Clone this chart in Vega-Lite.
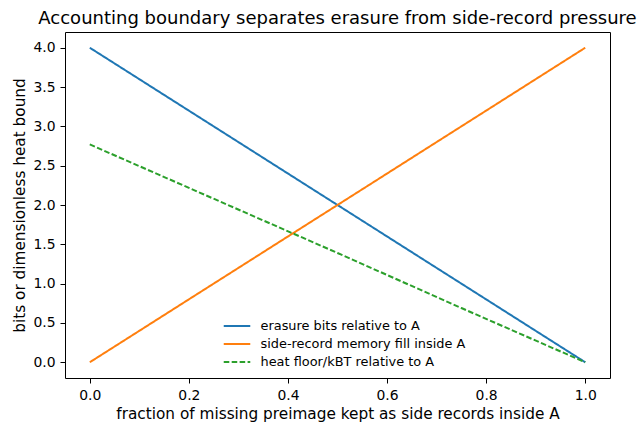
{
  "$schema": "https://vega.github.io/schema/vega-lite/v6.json",
  "width": 545,
  "height": 346,
  "autosize": {"type": "none"},
  "padding": {"left": 65, "top": 32, "right": 33, "bottom": 49},
  "background": "white",
  "config": {
    "font": "DejaVu Sans",
    "view": {"stroke": "black", "strokeWidth": 1},
    "axis": {
      "grid": false,
      "domain": false,
      "tickColor": "black",
      "tickSize": 5,
      "tickWidth": 1,
      "labelColor": "black",
      "labelFontSize": 13.9,
      "labelPadding": 5,
      "titleColor": "black",
      "titleFontSize": 15.3,
      "titleFontWeight": "normal"
    },
    "legend": {
      "labelFontSize": 12.9,
      "labelColor": "black",
      "labelLimit": 0,
      "symbolType": "M-2,0L2,0",
      "symbolSize": 176,
      "symbolStrokeWidth": 2,
      "labelOffset": 15.5,
      "rowPadding": 3,
      "padding": 0
    }
  },
  "title": {
    "text": "Accounting boundary separates erasure from side-record pressure",
    "fontSize": 18,
    "fontWeight": "normal",
    "color": "black",
    "anchor": "middle",
    "offset": 4
  },
  "data": {
    "values": [
      {"f": 0.0, "v": 4.0, "series": "erasure bits relative to A"},
      {"f": 0.25, "v": 3.0, "series": "erasure bits relative to A"},
      {"f": 0.5, "v": 2.0, "series": "erasure bits relative to A"},
      {"f": 0.75, "v": 1.0, "series": "erasure bits relative to A"},
      {"f": 1.0, "v": 0.0, "series": "erasure bits relative to A"},
      {"f": 0.0, "v": 0.0, "series": "side-record memory fill inside A"},
      {"f": 0.25, "v": 1.0, "series": "side-record memory fill inside A"},
      {"f": 0.5, "v": 2.0, "series": "side-record memory fill inside A"},
      {"f": 0.75, "v": 3.0, "series": "side-record memory fill inside A"},
      {"f": 1.0, "v": 4.0, "series": "side-record memory fill inside A"},
      {"f": 0.0, "v": 2.77, "series": "heat floor/kBT relative to A"},
      {"f": 0.25, "v": 2.08, "series": "heat floor/kBT relative to A"},
      {"f": 0.5, "v": 1.39, "series": "heat floor/kBT relative to A"},
      {"f": 0.75, "v": 0.69, "series": "heat floor/kBT relative to A"},
      {"f": 1.0, "v": 0.0, "series": "heat floor/kBT relative to A"}
    ]
  },
  "mark": {"type": "line", "strokeWidth": 2},
  "encoding": {
    "x": {
      "field": "f",
      "type": "quantitative",
      "scale": {"domain": [-0.05, 1.05], "nice": false, "zero": false},
      "axis": {
        "values": [0, 0.2, 0.4, 0.6, 0.8, 1.0],
        "format": ".1f",
        "title": "fraction of missing preimage kept as side records inside A",
        "titlePadding": 5
      }
    },
    "y": {
      "field": "v",
      "type": "quantitative",
      "scale": {"domain": [-0.2, 4.2], "nice": false, "zero": false},
      "axis": {
        "values": [0, 0.5, 1, 1.5, 2, 2.5, 3, 3.5, 4],
        "format": ".1f",
        "title": "bits or dimensionless heat bound",
        "titlePadding": 5
      }
    },
    "color": {
      "field": "series",
      "type": "nominal",
      "scale": {
        "domain": ["erasure bits relative to A", "side-record memory fill inside A", "heat floor/kBT relative to A"],
        "range": ["#1f77b4", "#ff7f0e", "#2ca02c"]
      },
      "legend": {"title": null, "orient": "none", "legendX": 164, "legendY": 286}
    },
    "strokeDash": {
      "field": "series",
      "type": "nominal",
      "scale": {
        "domain": ["erasure bits relative to A", "side-record memory fill inside A", "heat floor/kBT relative to A"],
        "range": [[1, 0], [1, 0], [5.55, 2.4]]
      },
      "legend": {"title": null, "orient": "none", "legendX": 164, "legendY": 286}
    }
  }
}
